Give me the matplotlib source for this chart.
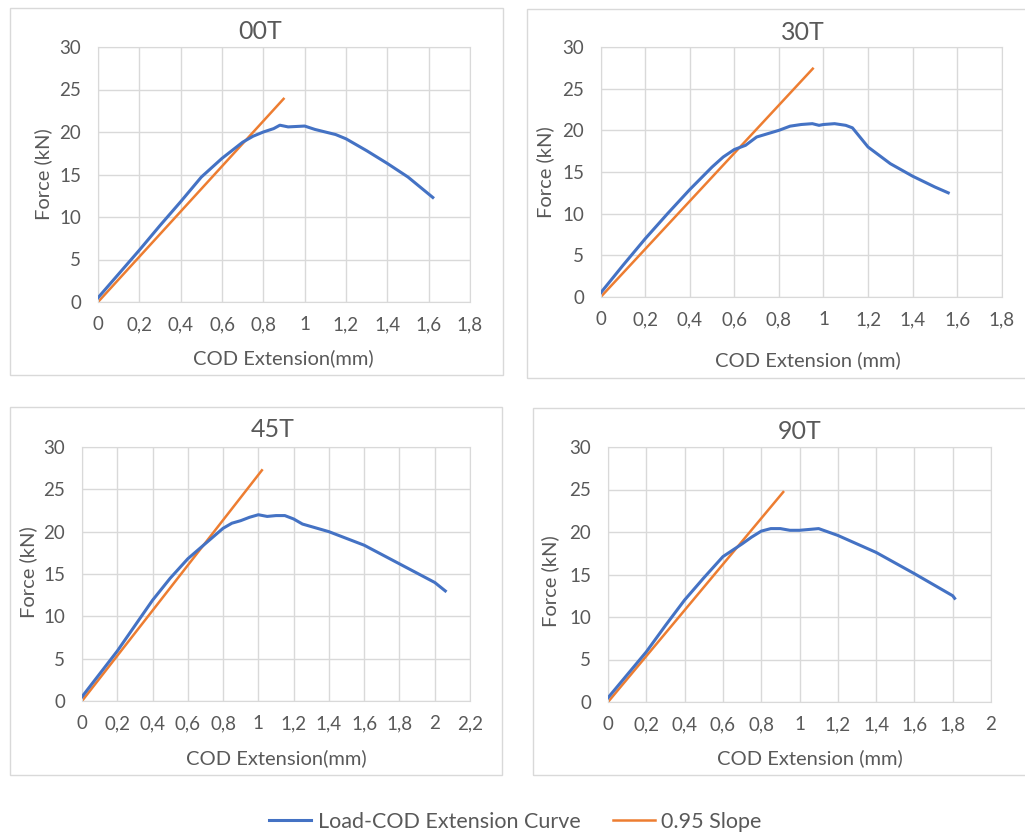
import numpy as np
import matplotlib
matplotlib.use('Agg')
import matplotlib.pyplot as plt
from matplotlib.patches import Rectangle
from matplotlib.ticker import FuncFormatter, MultipleLocator

plt.rcParams['font.family'] = ['Lato', 'DejaVu Sans']

# load-COD curves
x_00 = [0, 0.1, 0.2, 0.3, 0.4, 0.5, 0.6, 0.7, 0.75, 0.8, 0.85, 0.88, 0.92, 1.0, 1.05, 1.1, 1.15, 1.2, 1.3, 1.4, 1.5, 1.62]
f_00 = [0.5, 3.3, 6.1, 9.0, 11.8, 14.7, 16.9, 18.8, 19.5, 20.0, 20.4, 20.8, 20.6, 20.7, 20.3, 20.0, 19.7, 19.2, 17.8, 16.3, 14.7, 12.3]
x_30 = [0, 0.1, 0.2, 0.3, 0.4, 0.5, 0.55, 0.6, 0.65, 0.7, 0.75, 0.8, 0.85, 0.9, 0.95, 0.98, 1.0, 1.05, 1.1, 1.13, 1.2, 1.25, 1.3, 1.4, 1.5, 1.56]
f_30 = [0.5, 3.8, 7.0, 10.0, 12.9, 15.6, 16.8, 17.7, 18.2, 19.2, 19.6, 20.0, 20.5, 20.7, 20.8, 20.6, 20.7, 20.8, 20.6, 20.3, 18.0, 17.0, 16.0, 14.5, 13.2, 12.5]
x_45 = [0, 0.1, 0.2, 0.3, 0.4, 0.5, 0.6, 0.7, 0.8, 0.85, 0.9, 0.95, 1.0, 1.05, 1.1, 1.15, 1.2, 1.25, 1.3, 1.4, 1.5, 1.6, 1.7, 1.8, 1.9, 2.0, 2.06]
f_45 = [0.5, 3.2, 5.9, 8.9, 11.9, 14.5, 16.8, 18.6, 20.4, 21.0, 21.3, 21.7, 22.0, 21.8, 21.9, 21.9, 21.5, 20.9, 20.6, 20.0, 19.2, 18.4, 17.3, 16.2, 15.1, 14.0, 13.0]
x_90 = [0, 0.1, 0.2, 0.3, 0.4, 0.5, 0.6, 0.7, 0.75, 0.8, 0.85, 0.9, 0.95, 1.0, 1.05, 1.1, 1.15, 1.2, 1.4, 1.6, 1.8, 1.81]
f_90 = [0.5, 3.2, 5.9, 9.0, 12.0, 14.6, 17.1, 18.6, 19.4, 20.1, 20.4, 20.4, 20.2, 20.2, 20.3, 20.4, 20.0, 19.6, 17.6, 15.1, 12.5, 12.2]

# 0.95 slope lines (start, end)
sx_00, sf_00 = [0, 0.898], [0, 23.9]
sx_30, sf_30 = [0, 0.952], [0, 27.4]
sx_45, sf_45 = [0, 1.02], [0, 27.25]
sx_90, sf_90 = [0, 0.915], [0, 24.7]

names = ['00T', '30T', '45T', '90T']
xlabels = ['COD Extension(mm)', 'COD Extension (mm)', 'COD Extension(mm)', 'COD Extension (mm)']
xmax = [1.8, 1.8, 2.2, 2.0]

curves = [(x_00, f_00), (x_30, f_30), (x_45, f_45), (x_90, f_90)]
slopes = [(sx_00, sf_00), (sx_30, sf_30), (sx_45, sf_45), (sx_90, sf_90)]

W, H = 1025, 836
# plot area in pixels: left, right, top, bottom
areas = [(98, 470, 47, 302), (600.7, 1001.7, 47, 297), (82, 470, 447, 701), (608, 991, 447, 702)]
# chart frames in pixels: left, right, top, bottom
frames = [(10, 503, 8, 375), (527, 1030, 9, 378), (10, 502, 407, 775), (533, 1030, 408, 775)]
# title, xlabel, ylabel positions in axes coords
title_pos = [(0.435, 1.059), (0.504, 1.056), (0.492, 1.067), (0.501, 1.059)]
xlab_pos = [(0.497, -0.22), (0.516, -0.252), (0.5, -0.224), (0.527, -0.22)]
ylab_pos = [(-0.148, 0.5), (-0.139, 0.5), (-0.139, 0.506), (-0.151, 0.475)]

blue = '#4472C4'
orange = '#ED7D31'
grid = '#D9D9D9'
txt = '#595959'

fig = plt.figure(figsize=(W / 100, H / 100), dpi=100)

for l, r, t, b in frames:
    fig.patches.append(Rectangle((l / W, 1 - b / H), (r - l) / W, (b - t) / H,
                                 transform=fig.transFigure, fill=False,
                                 edgecolor=grid, linewidth=1))

comma = FuncFormatter(lambda v, p: f'{v:g}'.replace('.', ','))

for i in range(4):
    l, r, t, b = areas[i]
    ax = fig.add_axes([l / W, 1 - b / H, (r - l) / W, (b - t) / H])
    xs, fs = curves[i]
    ax.plot(xs, fs, color=blue, lw=2.2, label='Load-COD Extension Curve', zorder=3)
    sx, sf = slopes[i]
    ax.plot(sx, sf, color=orange, lw=1.8, label='0.95 Slope', zorder=2)
    ax.set_xlim(0, xmax[i])
    ax.set_ylim(0, 30)
    ax.xaxis.set_major_locator(MultipleLocator(0.2))
    ax.yaxis.set_major_locator(MultipleLocator(5))
    ax.xaxis.set_major_formatter(comma)
    ax.grid(True, color=grid, lw=1)
    ax.set_axisbelow(True)
    for s in ax.spines.values():
        s.set_color(grid)
    ax.tick_params(length=0, labelsize=13.5, labelcolor=txt)
    ax.tick_params(axis='x', pad=10)
    ax.tick_params(axis='y', pad=12)
    ax.set_xlabel(xlabels[i], fontsize=14.5, color=txt, va='center')
    ax.xaxis.set_label_coords(*xlab_pos[i])
    ax.set_ylabel('Force (kN)', fontsize=14.5, color=txt, va='center')
    ax.yaxis.set_label_coords(*ylab_pos[i])
    ax.text(title_pos[i][0], title_pos[i][1], names[i], transform=ax.transAxes,
            ha='center', va='center', fontsize=18, color=txt)
    if i == 0:
        handles, labels = ax.get_legend_handles_labels()

fig.legend(handles, labels, loc='center', bbox_to_anchor=(0.503, 1 - 822 / H), ncol=2,
           frameon=False, fontsize=15.5, labelcolor=txt, handlelength=1.95,
           handletextpad=0.3, columnspacing=1.5)

fig.savefig('out.png', dpi=100, facecolor='white')
